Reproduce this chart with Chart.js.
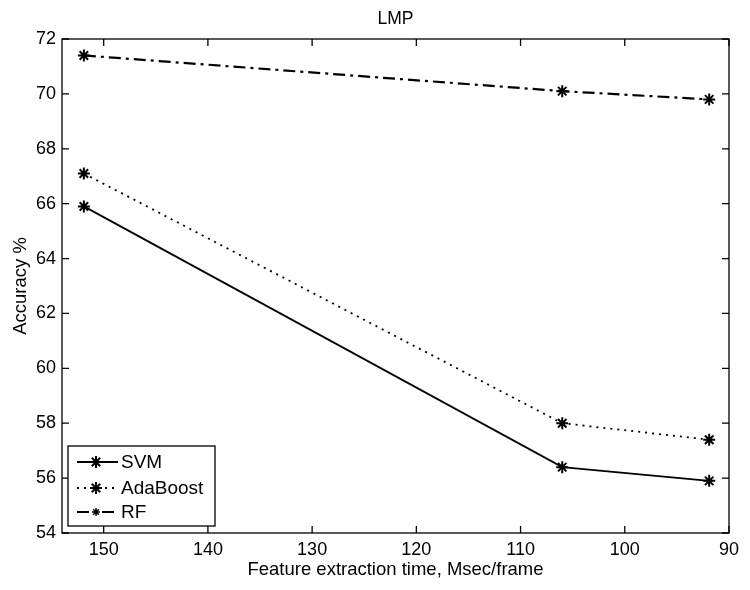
<!DOCTYPE html>
<html>
<head>
<meta charset="utf-8">
<script src="https://cdn.jsdelivr.net/npm/chart.js@4.4.0/dist/chart.umd.min.js"></script>
<style>
  body { margin: 0; background: #fff; }
  #wrap { width: 750px; height: 590px; }
</style>
</head>
<body>
<div id="wrap"><canvas id="myChart" width="750" height="590"></canvas></div>
<script>
// values
const extractionTime = [151.9, 106, 91.9];
const svmAcc = [65.9, 56.4, 55.9];
const adaBoostAcc = [67.1, 58.0, 57.4];
const rfAcc = [71.4, 70.1, 69.8];
const xTicks = [150, 140, 130, 120, 110, 100, 90];
const yTicks = [54, 56, 58, 60, 62, 64, 66, 68, 70, 72];
const chartTitle = 'LMP';

const FONT = 'Liberation Sans, Arial, sans-serif';

function toPoints(ys) {
    return ys.map((y, i) => ({ x: extractionTime[i], y: y }));
}

function series(label, ys, dash, width) {
    return {
        label: label,
        data: toPoints(ys),
        borderColor: '#000',
        backgroundColor: '#000',
        borderWidth: width,
        borderDash: dash,
        pointStyle: 'star',
        pointRadius: 6,
        pointBorderWidth: 2,
        pointBorderColor: '#000',
        tension: 0,
        fill: false
    };
}

// MATLAB style box, inward ticks on all sides, title over the axes, legend inside
const matlabBox = {
    id: 'matlabBox',
    afterDraw(chart) {
        const ctx = chart.ctx;
        const a = chart.chartArea;
        const xs = chart.scales.x, ys = chart.scales.y;
        ctx.save();
        ctx.strokeStyle = '#000';
        ctx.lineWidth = 1.3;
        ctx.setLineDash([]);
        ctx.strokeRect(a.left, a.top, a.right - a.left, a.bottom - a.top);
        const tl = 7;
        ctx.beginPath();
        xTicks.forEach(v => {
            const px = xs.getPixelForValue(v);
            ctx.moveTo(px, a.bottom); ctx.lineTo(px, a.bottom - tl);
            ctx.moveTo(px, a.top); ctx.lineTo(px, a.top + tl);
        });
        yTicks.forEach(v => {
            const py = ys.getPixelForValue(v);
            ctx.moveTo(a.left, py); ctx.lineTo(a.left + tl, py);
            ctx.moveTo(a.right, py); ctx.lineTo(a.right - tl, py);
        });
        ctx.stroke();

        // title centred over the axes
        ctx.fillStyle = '#000';
        ctx.font = '17.5px ' + FONT;
        ctx.textAlign = 'center';
        ctx.textBaseline = 'middle';
        ctx.fillText(chartTitle, (a.left + a.right) / 2, 19.5);

        // legend
        const lx = 68, ly = 446, lw = 147, lh = 80;
        ctx.fillStyle = '#fff';
        ctx.fillRect(lx, ly, lw, lh);
        ctx.lineWidth = 1.3;
        ctx.strokeRect(lx, ly, lw, lh);
        const rows = [462, 488, 512];
        chart.data.datasets.forEach((ds, i) => {
            const y = rows[i];
            ctx.strokeStyle = '#000';
            ctx.lineWidth = ds.borderWidth;
            ctx.setLineDash(ds.borderDash);
            ctx.beginPath();
            ctx.moveTo(77, y); ctx.lineTo(118, y);
            ctx.stroke();
            ctx.setLineDash([]);
            ctx.lineWidth = i == 2 ? 1.4 : 2;
            const r = i == 2 ? 4 : 6;
            ctx.beginPath();
            ctx.moveTo(96 - r, y); ctx.lineTo(96 + r, y);
            ctx.moveTo(96, y - r); ctx.lineTo(96, y + r);
            const d = r * 0.7;
            ctx.moveTo(96 - d, y - d); ctx.lineTo(96 + d, y + d);
            ctx.moveTo(96 - d, y + d); ctx.lineTo(96 + d, y - d);
            ctx.stroke();
            ctx.fillStyle = '#000';
            ctx.font = '19px ' + FONT;
            ctx.textBaseline = 'middle';
            ctx.textAlign = 'left';
            ctx.fillText(ds.label, 121, y + 1);
        });
        ctx.restore();
    }
};

const myChart = new Chart(document.getElementById('myChart'), {
    type: 'line',
    data: {
        datasets: [
            series('SVM', svmAcc, [], 1.8),
            series('AdaBoost', adaBoostAcc, [2, 5], 1.8),
            series('RF', rfAcc, [12, 5, 3, 5], 2.2)
        ]
    },
    options: {
        responsive: false,
        animation: false,
        layout: { padding: { left: 0, right: 21, top: 39, bottom: 0 } },
        plugins: {
            legend: { display: false },
            tooltip: { enabled: false },
            title: { display: false }
        },
        scales: {
            x: {
                type: 'linear',
                reverse: true,
                min: 90,
                max: 154,
                grid: { display: false, drawTicks: false },
                border: { display: false },
                afterBuildTicks: s => { s.ticks = xTicks.map(v => ({ value: v })); },
                afterFit: s => { s.height = 57; },
                ticks: {
                    color: '#000',
                    padding: 6,
                    maxRotation: 0,
                    font: { family: FONT, size: 18 }
                },
                title: {
                    display: true,
                    text: 'Feature extraction time, Msec/frame',
                    color: '#000',
                    font: { family: FONT, size: 18.5 },
                    padding: { top: 0, bottom: 9 }
                }
            },
            y: {
                min: 54,
                max: 72,
                grid: { display: false, drawTicks: false },
                border: { display: false },
                afterBuildTicks: s => { s.ticks = yTicks.map(v => ({ value: v })); },
                afterFit: s => { s.width = 62; },
                ticks: {
                    color: '#000',
                    padding: 6,
                    font: { family: FONT, size: 18 }
                },
                title: {
                    display: true,
                    text: 'Accuracy %',
                    color: '#000',
                    font: { family: FONT, size: 18.5 },
                    padding: { top: 9.5, bottom: 0 }
                }
            }
        }
    },
    plugins: [matlabBox]
});
</script>
</body>
</html>
